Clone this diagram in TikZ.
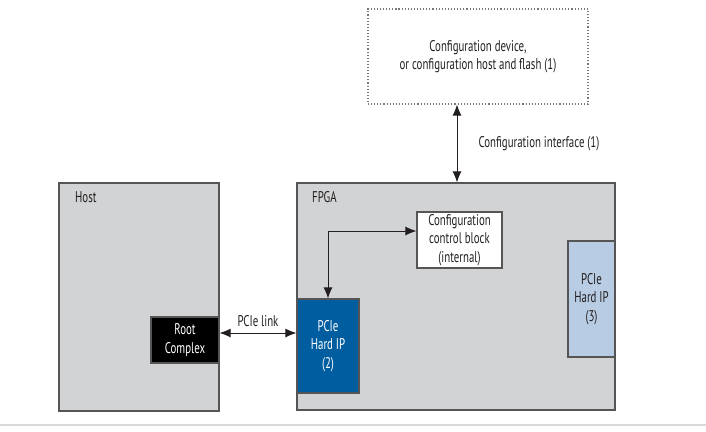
\documentclass[tikz,border=0pt]{standalone}
\usepackage{fontspec}
\setmainfont[FakeStretch=0.7]{PT Sans}
\usetikzlibrary{arrows.meta,positioning}
\definecolor{boxgray}{RGB}{209,211,212}
\definecolor{edgegray}{RGB}{85,85,85}
\definecolor{ipblue}{RGB}{0,94,160}
\definecolor{iplight}{RGB}{184,204,228}
\definecolor{ink}{RGB}{35,31,32}
\tikzset{
  blk/.style={draw=edgegray, line width=1.1pt, inner sep=0pt, align=center},
  dblarrow/.style={{Latex[length=11bp,width=9bp]}-{Latex[length=11bp,width=9bp]}, line width=1pt, ink},
  lbl/.style={inner sep=0pt, align=center}
}
\begin{document}
\begin{tikzpicture}[x=1bp, y=-1bp, every node/.style={font=\fontsize{15.5bp}{18.5bp}\selectfont, text=ink}]
\useasboundingbox (0,0) rectangle (706,431);
% outer boxes
\node[blk, fill=boxgray, minimum width=160bp, minimum height=228bp] (host) at (139,297) {};
\node[blk, fill=boxgray, minimum width=318bp, minimum height=227bp] (fpga) at (456,296.5) {};
\node[lbl, anchor=west] (hostlbl) at (75,197) {Host};
\node[lbl, anchor=west] (fpgalbl) at (312,197) {FPGA};
% config device
\node[blk, dotted, draw=edgegray!80, minimum width=220bp, minimum height=95bp] (cfgdev) at (478,56.5)
  {Configuration device,\\or configuration host and flash (1)};
% inner blocks
\node[blk, fill=black, text=white, minimum width=68bp, minimum height=46bp] (rc) at (185,340) {Root\\Complex};
\node[blk, fill=ipblue, text=white, minimum width=62bp, minimum height=94bp] (hip2) at (328,346) {PCIe\\Hard IP\\(2)};
\node[blk, fill=iplight, minimum width=47bp, minimum height=116bp] (hip3) at (591.5,299) {PCIe\\Hard IP\\(3)};
\node[blk, fill=white, minimum width=85bp, minimum height=56bp] (ccb) at (459.5,240) {Configuration\\control block\\(internal)};
% connectors
\draw[dblarrow] ([xshift=-21bp]cfgdev.south) -- ([xshift=-21bp]cfgdev.south |- fpga.north)
  node[lbl, midway, anchor=west, xshift=21bp] (cilbl) {Configuration interface (1)};
\draw[dblarrow] ([yshift=7bp]rc.east) -- ([yshift=7bp]rc.east -| hip2.west)
  node[lbl, midway, above=6bp] (linklbl) {PCIe link};
\draw[dblarrow] (hip2.north) |- ([yshift=9bp]ccb.west);
% bottom rule
\draw[line width=2.5pt, black!15] (0,425) -- (706,425);
\end{tikzpicture}
\end{document}
